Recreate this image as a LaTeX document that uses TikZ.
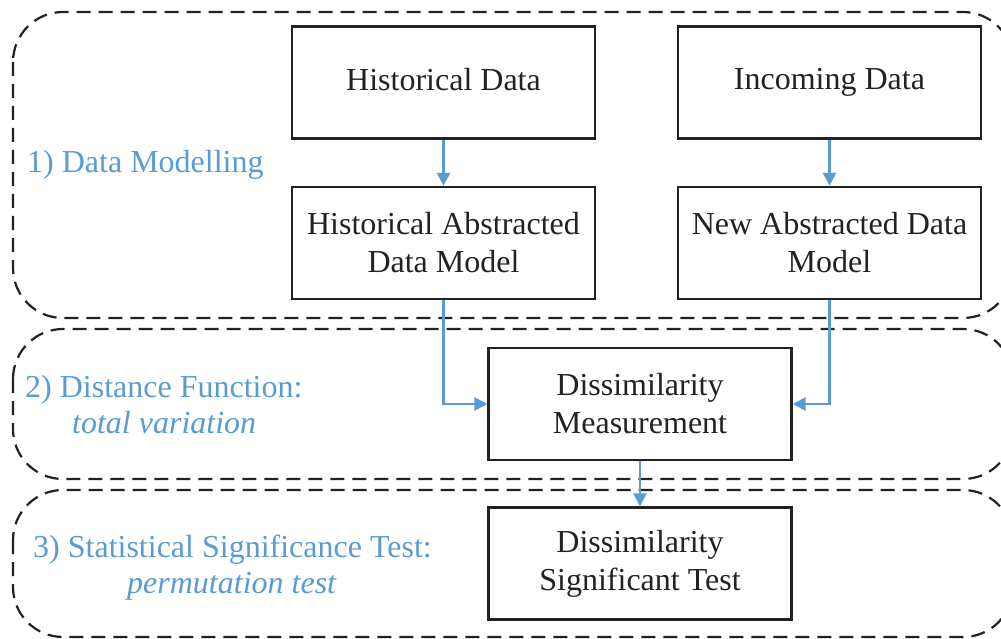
\documentclass[tikz,border=0pt]{standalone}
\usepackage{fontspec}
\setmainfont{Liberation Serif}
\usetikzlibrary{arrows.meta}
\definecolor{lblue}{HTML}{5B9BD5}
\definecolor{ink}{HTML}{222222}
\begin{document}
\begin{tikzpicture}[x=1pt,y=-1pt,
  box/.style={draw=ink,line width=2.4pt,minimum width=303pt,minimum height=112pt,align=center,text=ink,font=\fontsize{32}{38}\selectfont,inner sep=0pt},
  frame/.style={draw=ink,line width=2.2pt,dash pattern=on 14pt off 8pt,rounded corners=50pt},
  lbl/.style={text=lblue,font=\fontsize{32}{36}\selectfont,anchor=base west,inner sep=0pt},
  arr/.style={draw=lblue,line width=2.6pt,-{Triangle[length=13pt,width=13pt]}}]
\useasboundingbox (0,0) rectangle (1001,639);
\fill[white] (0,0) rectangle (1001,639);
% frames
\draw[frame] (13,12) rectangle (1013,318);
\draw[frame] (13,329) rectangle (1013,479);
\draw[frame] (13,490) rectangle (1013,637);
% boxes
\node[box] (hd) at (443.5,82.5) {\vphantom{Hg}Historical Data};
\node[box] (id) at (829.5,82.5) {\vphantom{Hg}Incoming Data};
\node[box] (ha) at (443.5,243) {Historical Abstracted\\Data Model};
\node[box] (na) at (829.5,243) {New Abstracted Data\\Model};
\node[box] (dm) at (640,404) {Dissimilarity\\Measurement};
\node[box] (st) at (640,563.5) {Dissimilarity\\Significant Test};
% labels
\node[lbl] (l1) at (27,173) {1) Data Modelling};
\node[lbl] (l2) at (25,397) {2) Distance Function:};
\node[lbl] (l2b) at (72,433) {\itshape total variation};
\node[lbl] (l3) at (33,557) {3) Statistical Significance Test:};
\node[lbl] (l3b) at (127,593) {\itshape permutation test};
% arrows
\draw[arr] (hd) -- (ha);
\draw[arr] (id) -- (na);
\draw[arr] (ha.south) |- (dm.west);
\draw[arr] (na.south) |- (dm.east);
\draw[arr] (dm) -- (st);
\end{tikzpicture}
\end{document}
